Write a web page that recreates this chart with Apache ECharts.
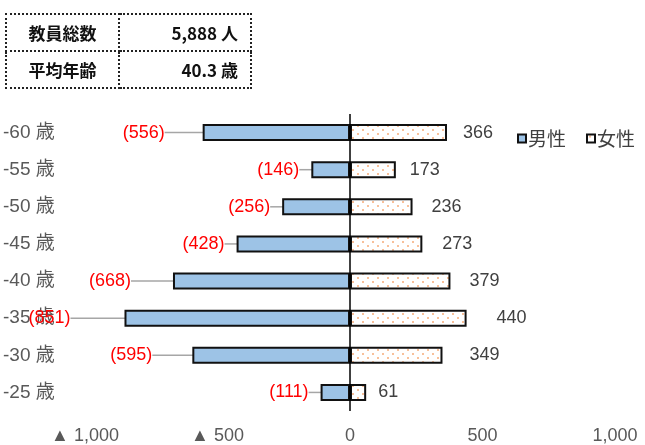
<!DOCTYPE html>
<html>
<head>
<meta charset="utf-8">
<script src="https://cdn.jsdelivr.net/npm/echarts@6/dist/echarts.min.js"></script>
<style>
  html, body { margin: 0; padding: 0; background: #fff; }
  #wrap { position: relative; width: 645px; height: 445px; }
  #chart { position: absolute; left: 0; top: 0; width: 645px; height: 445px; }
  #info {
    position: absolute; left: 5px; top: 13px; border-collapse: collapse;
    font-family: "Noto Sans CJK JP", sans-serif; font-weight: bold; font-size: 17px; color: #111;
  }
  #info td { border: 2px dotted #222; height: 35px; padding: 0; }
  #info td.k { width: 111px; text-align: center; }
  #info td.v { width: 132px; text-align: right; padding-right: 12px; box-sizing: border-box; }
</style>
</head>
<body>
<div id="wrap">
  <div id="chart"></div>
  <table id="info">
    <tr><td class="k">教員総数</td><td class="v">5,888 人</td></tr>
    <tr><td class="k">平均年齢</td><td class="v">40.3 歳</td></tr>
  </table>
</div>
<script>
const ages = ["-60 歳", "-55 歳", "-50 歳", "-45 歳", "-40 歳", "-35 歳", "-30 歳", "-25 歳"];
const male = [556, 146, 256, 428, 668, 851, 595, 111];
const female = [366, 173, 236, 273, 379, 440, 349, 61];
const xTicks = [-1000, -500, 0, 500, 1000];

// label nudges (excel labels were moved by hand)
const maleShift = [-26, 0, 0, 0, -30, -42, -28, 0];
const femaleShift = [0, -2, 3, 4, 3, 14, 11, -4];

function dotPattern() {
  const c = document.createElement("canvas");
  c.width = 10;
  c.height = 8;
  const ctx = c.getContext("2d");
  ctx.fillStyle = "#fff";
  ctx.fillRect(0, 0, 10, 8);
  ctx.fillStyle = "#f8c09a";
  ctx.fillRect(2, 1, 2, 2);
  ctx.fillRect(7, 5, 2, 2);
  return c;
}

const fmt = v => Math.abs(v).toLocaleString("en-US");
const font = '"Liberation Sans", "Noto Sans CJK JP", sans-serif';
const cjk = '"Noto Sans CJK JP", sans-serif';

const chart = echarts.init(document.getElementById("chart"));
chart.setOption({
  animation: false,
  textStyle: { fontFamily: font },
  legend: {
    data: ["男性", "女性"],
    orient: "horizontal",
    left: 517,
    top: 129,
    padding: 0,
    icon: "rect",
    itemWidth: 8,
    itemHeight: 8,
    itemGap: 20,
    textStyle: { fontSize: 19, color: "#404040", fontFamily: cjk, padding: [0, 0, 0, -3] }
  },
  grid: { left: 85, right: 30, top: 114, bottom: 32 },
  xAxis: {
    type: "value",
    min: xTicks[0],
    max: xTicks[xTicks.length - 1],
    interval: 500,
    splitLine: { show: false },
    axisLine: { show: false },
    axisTick: { show: false },
    axisLabel: {
      fontSize: 18,
      color: "#595959",
      margin: 16,
      formatter: v => (v < 0 ? "▲ " + fmt(v) : fmt(v))
    }
  },
  yAxis: {
    type: "category",
    data: ages,
    inverse: true,
    axisLine: { show: false, onZero: false },
    axisTick: { show: false },
    axisLabel: { fontSize: 19, color: "#595959", align: "left", margin: 82 }
  },
  series: [
    {
      name: "男性",
      type: "bar",
      stack: "all",
      barWidth: 17,
      data: male.map(v => -v),
      itemStyle: { color: "#9dc3e6", borderColor: "#111", borderWidth: 2 },
      label: {
        show: true,
        position: "left",
        distance: 12,
        fontSize: 18,
        color: "#ff0000",
        formatter: p => "(" + fmt(p.value) + ")"
      },
      labelLayout: p => ({ dx: maleShift[p.dataIndex] }),
      labelLine: { show: true, lineStyle: { color: "#a6a6a6", width: 1.5 } },
      markLine: {
        silent: true,
        symbol: "none",
        label: { show: false },
        lineStyle: { color: "#000", type: "solid", width: 1.5 },
        data: [{ xAxis: 0 }]
      }
    },
    {
      name: "女性",
      type: "bar",
      stack: "all",
      barWidth: 17,
      data: female,
      itemStyle: {
        color: { image: dotPattern(), repeat: "repeat" },
        borderColor: "#111",
        borderWidth: 2
      },
      label: {
        show: true,
        position: "right",
        distance: 16,
        fontSize: 18,
        color: "#404040",
        formatter: p => fmt(p.value)
      },
      labelLayout: p => ({ dx: femaleShift[p.dataIndex] })
    }
  ]
});
</script>
</body>
</html>
